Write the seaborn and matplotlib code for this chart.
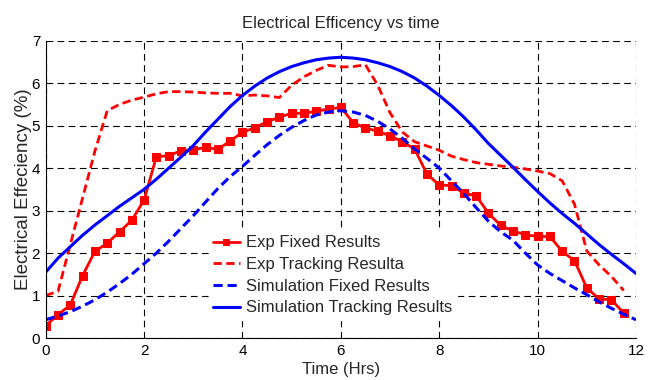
import numpy as np
import matplotlib
matplotlib.use("Agg")
import matplotlib.pyplot as plt
import seaborn as sns

# Messwerte alle 15 min (0 .. 11.75 h)
hours_exp = np.arange(0, 12, 0.25)
exp_fixed = [0.29, 0.55, 0.78, 1.47, 2.04, 2.23, 2.50, 2.77, 3.25, 4.27, 4.29, 4.41,
             4.43, 4.49, 4.44, 4.64, 4.84, 4.95, 5.09, 5.20, 5.29, 5.29, 5.34, 5.39,
             5.43, 5.07, 4.94, 4.87, 4.76, 4.62, 4.45, 3.86, 3.60, 3.59, 3.41, 3.35,
             2.94, 2.65, 2.52, 2.43, 2.39, 2.39, 2.04, 1.82, 1.18, 0.92, 0.90, 0.59]
exp_tracking = [1.00, 1.10, 2.20, 3.30, 4.40, 5.35, 5.50, 5.60, 5.67, 5.75, 5.80, 5.80,
                5.79, 5.77, 5.76, 5.76, 5.70, 5.72, 5.70, 5.66, 5.95, 6.15, 6.30, 6.42,
                6.38, 6.39, 6.43, 5.95, 5.30, 4.85, 4.62, 4.52, 4.42, 4.28, 4.20, 4.13,
                4.09, 4.05, 4.02, 3.98, 3.93, 3.87, 3.70, 3.15, 2.05, 1.72, 1.45, 1.12]

# Simulation alle 15 min (0 .. 12 h)
hours_sim = np.arange(0, 12.01, 0.25)
sim_fixed = [0.43, 0.52, 0.62, 0.75, 0.90, 1.08, 1.28, 1.50, 1.75, 2.00, 2.28, 2.58,
             2.88, 3.20, 3.52, 3.80, 4.04, 4.30, 4.55, 4.77, 4.96, 5.12, 5.25, 5.32,
             5.35, 5.32, 5.24, 5.10, 4.92, 4.70, 4.45, 4.23, 4.00, 3.70, 3.40, 3.07,
             2.75, 2.50, 2.30, 2.00, 1.72, 1.52, 1.35, 1.18, 1.02, 0.85, 0.70, 0.56, 0.43]
sim_tracking = [1.55, 1.88, 2.15, 2.42, 2.66, 2.88, 3.10, 3.30, 3.50, 3.74, 4.00, 4.26,
                4.53, 4.85, 5.15, 5.45, 5.71, 5.93, 6.12, 6.27, 6.39, 6.48, 6.55, 6.59,
                6.61, 6.59, 6.55, 6.48, 6.39, 6.27, 6.12, 5.93, 5.71, 5.47, 5.20, 4.90,
                4.58, 4.30, 4.02, 3.73, 3.45, 3.18, 2.93, 2.70, 2.45, 2.20, 1.97, 1.75, 1.52]

sns.set_style("white")
plt.rcParams['font.family'] = ['Liberation Sans', 'DejaVu Sans']

fig = plt.figure(figsize=(6.57, 3.8), dpi=100)
ax = fig.add_axes([0.0696, 0.1105, 0.8984, 0.7825])

red = '#ff0000'
blue = '#0000ff'
dash = (3, 1.6)

sns.lineplot(x=hours_exp, y=exp_fixed, ax=ax, color=red, lw=2, marker='s', markersize=5.5,
             markeredgecolor=red, label='Exp Fixed Results')
sns.lineplot(x=hours_exp, y=exp_tracking, ax=ax, color=red, lw=2,
             label='Exp Tracking Resulta').lines[-1].set_dashes(dash)
sns.lineplot(x=hours_sim, y=sim_fixed, ax=ax, color=blue, lw=2.2,
             label='Simulation Fixed Results').lines[-1].set_dashes(dash)
sns.lineplot(x=hours_sim, y=sim_tracking, ax=ax, color=blue, lw=2.2,
             label='Simulation Tracking Results')

ax.set_xlim(0, 12)
ax.set_ylim(0, 7)
ax.set_xticks(range(0, 13, 2))
ax.set_yticks(range(0, 8))
ax.grid(True, color='black', linestyle=(0, (6, 4)), linewidth=0.8)
for s in ['top', 'right']:
    ax.spines[s].set_visible(False)
for s in ['left', 'bottom']:
    ax.spines[s].set_color('black')
    ax.spines[s].set_linewidth(0.8)
ax.tick_params(direction='in', length=4, width=0.8, labelsize=11, colors='black', pad=4)

ax.set_title('Electrical Efficency vs time', fontsize=12, pad=9)
ax.set_xlabel('Time (Hrs)', fontsize=12, labelpad=3)
ax.set_ylabel('Electrical Effeciency (%)', fontsize=13.5, labelpad=0)

leg = ax.legend(loc='lower left', bbox_to_anchor=(0.262, 0.034), fontsize=12, frameon=True,
                facecolor='white', edgecolor='white', framealpha=1, handlelength=1.6,
                handletextpad=0.4, labelspacing=0.4, borderpad=0.25, numpoints=1,
                fancybox=False)
for h in leg.get_lines():
    h.set_markersize(4)

fig.savefig('out.png', dpi=100)
